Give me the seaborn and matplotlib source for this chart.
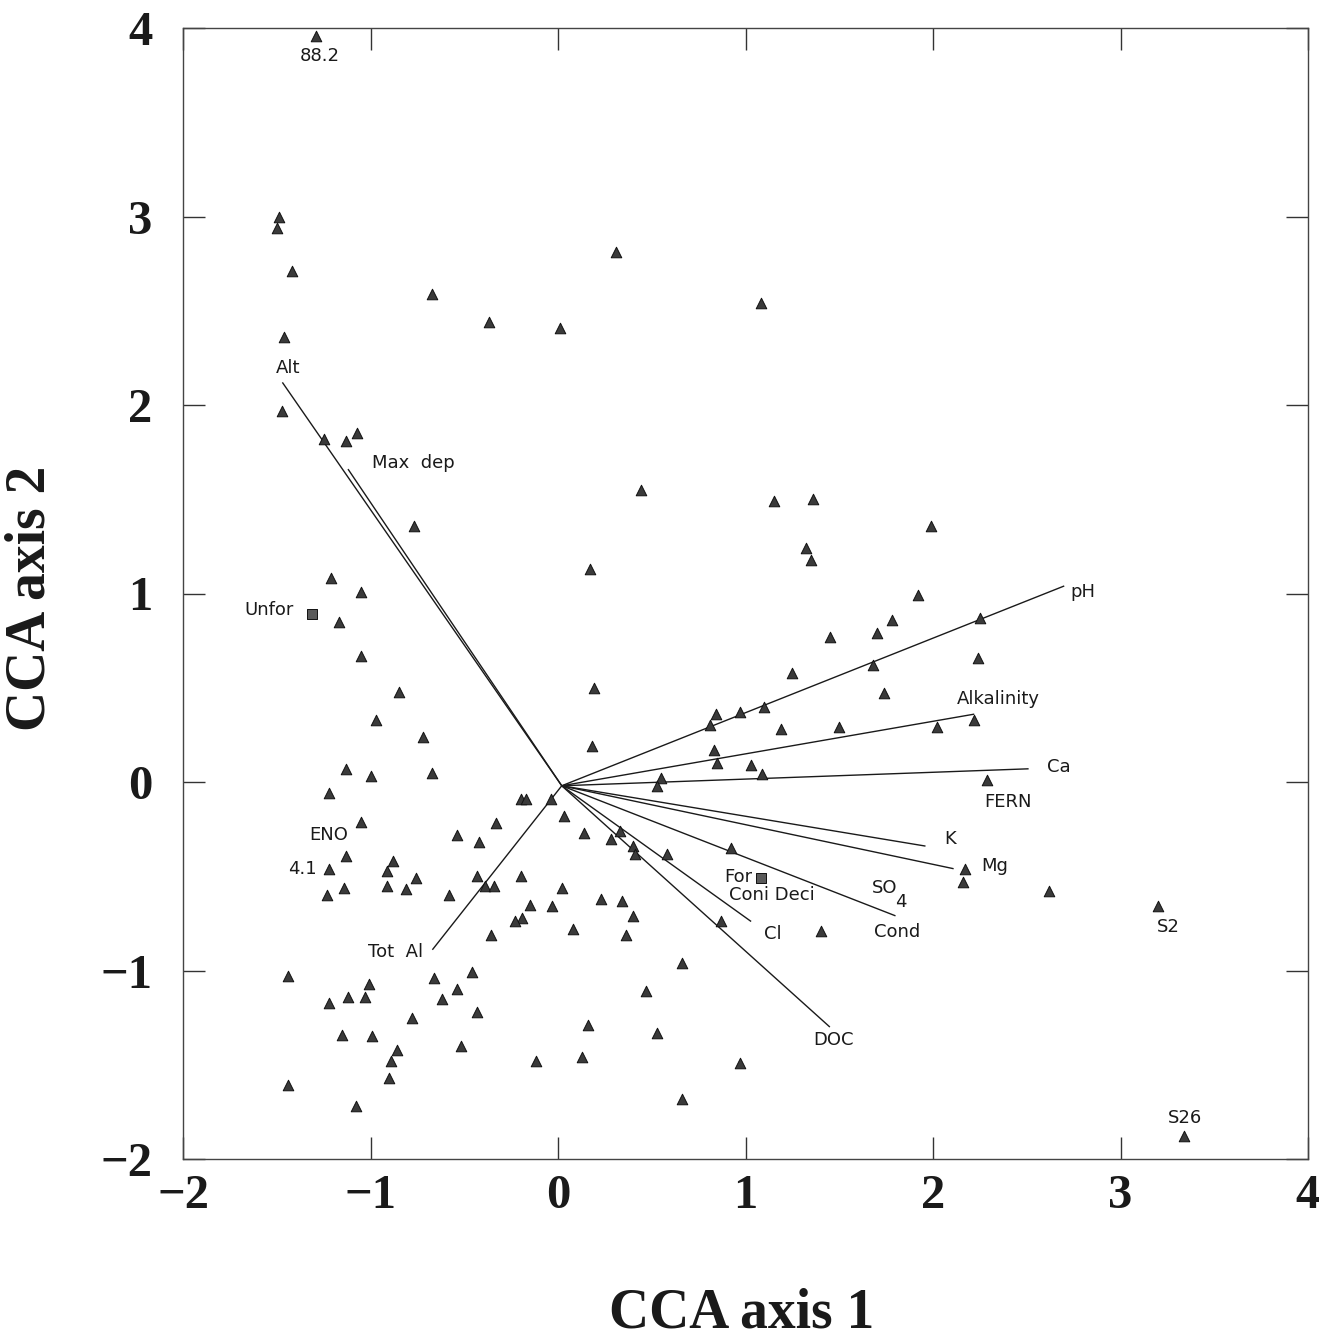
import matplotlib
matplotlib.use("Agg")
import matplotlib.pyplot as plt
import seaborn as sns
import pandas as pd

# ---- site scores (triangles) ----
site_x = [-1.29, -1.49, -1.50, -1.42, -0.67, -0.37, 0.01, 0.31, 1.08, -1.46,
          -1.47, -1.25, -1.13, -1.07, -0.77, -1.21, -1.05, -1.17, -1.05, -0.85,
          -0.97, -0.72, -1.13, -1.00, -0.67, -1.22, 0.44, 1.15, 1.36, 1.99,
          1.32, 1.35, 0.17, 1.92, 1.78, 1.70, 1.45, 1.68, 1.25, 0.19,
          1.74, 2.25, 2.24, 2.22, 2.29, 0.84, 0.97, 1.10, 0.81, 1.19,
          1.50, 2.02, 0.18, 0.83, 0.85, 1.03, 1.09, 0.55, 0.53, 2.17,
          2.16, 2.62, 3.20, 3.34, 0.03, 0.14, 0.28, 0.33, 0.40, 0.41,
          0.58, 0.92, 0.02, 0.23, 0.34, 0.40, 0.08, 0.36, 0.87, 1.40,
          0.66, 0.47, 0.16, 0.53, 0.13, 0.97, 0.66, -1.05, -1.13, -1.22,
          -1.14, -1.23, -0.88, -0.91, -0.76, -0.91, -0.81, -0.58, -0.54, -0.42,
          -0.33, -0.20, -0.17, -0.04, -0.43, -0.39, -0.34, -0.20, -0.15, -0.03,
          -0.19, -0.23, -0.36, -1.44, -1.01, -1.22, -1.12, -1.03, -0.66, -0.46,
          -0.54, -0.62, -0.78, -0.43, -1.15, -0.99, -0.86, -0.89, -0.90, -0.52,
          -0.12, -1.44, -1.08]
site_y = [3.96, 3.00, 2.94, 2.71, 2.59, 2.44, 2.41, 2.81, 2.54, 2.36,
          1.97, 1.82, 1.81, 1.85, 1.36, 1.08, 1.01, 0.85, 0.67, 0.48,
          0.33, 0.24, 0.07, 0.03, 0.05, -0.06, 1.55, 1.49, 1.50, 1.36,
          1.24, 1.18, 1.13, 0.99, 0.86, 0.79, 0.77, 0.62, 0.58, 0.50,
          0.47, 0.87, 0.66, 0.33, 0.01, 0.36, 0.37, 0.40, 0.30, 0.28,
          0.29, 0.29, 0.19, 0.17, 0.10, 0.09, 0.04, 0.02, -0.02, -0.46,
          -0.53, -0.58, -0.66, -1.88, -0.18, -0.27, -0.30, -0.26, -0.34, -0.38,
          -0.38, -0.35, -0.56, -0.62, -0.63, -0.71, -0.78, -0.81, -0.74, -0.79,
          -0.96, -1.11, -1.29, -1.33, -1.46, -1.49, -1.68, -0.21, -0.39, -0.46,
          -0.56, -0.60, -0.42, -0.47, -0.51, -0.55, -0.57, -0.60, -0.28, -0.32,
          -0.22, -0.09, -0.09, -0.09, -0.50, -0.55, -0.55, -0.50, -0.65, -0.66,
          -0.72, -0.74, -0.81, -1.03, -1.07, -1.17, -1.14, -1.14, -1.04, -1.01,
          -1.10, -1.15, -1.25, -1.22, -1.34, -1.35, -1.42, -1.48, -1.57, -1.40,
          -1.48, -1.61, -1.72]

# ---- nominal variables (squares) ----
group_names = ["Unfor", "For"]
group_x = [-1.31, 1.08]
group_y = [0.89, -0.51]

# ---- environmental biplot arrows ----
env_names = ["Alt", "Max dep", "pH", "Alkalinity", "Ca", "K", "Mg",
             "Cond", "Cl", "DOC", "Tot Al"]
env_x = [-1.47, -1.12, 2.70, 2.22, 2.51, 1.96, 2.11, 1.80, 1.03, 1.45, -0.67]
env_y = [2.12, 1.66, 1.04, 0.36, 0.07, -0.34, -0.46, -0.71, -0.74, -1.30, -0.89]
origin_x = 0.02
origin_y = -0.02

# ---- text labels ----
label_text = ["88.2", "Alt", "Max  dep", "Unfor", "pH", "Alkalinity", "Ca",
              "FERN", "K", "Mg", "S2", "S26", "SO", "4", "Cond", "Cl", "DOC",
              "For", "Coni Deci", "ENO", "4.1", "Tot  Al"]
label_x = [-1.27, -1.44, -0.77, -1.54, 2.80, 2.35, 2.67,
           2.40, 2.09, 2.33, 3.255, 3.346, 1.743, 1.828, 1.81, 1.146, 1.471,
           0.962, 1.14, -1.222, -1.361, -0.868]
label_y = [3.853, 2.197, 1.693, 0.913, 1.008, 0.441, 0.080,
           -0.106, -0.300, -0.446, -0.770, -1.781, -0.560, -0.634, -0.796, -0.807, -1.367,
           -0.504, -0.602, -0.281, -0.459, -0.902]

x_ticks = [-2, -1, 0, 1, 2, 3, 4]
y_ticks = [-2, -1, 0, 1, 2, 3, 4]
x_title = "CCA axis 1"
y_title = "CCA axis 2"

sns.set_theme(style="ticks")
plt.rcParams['font.family'] = ['DejaVu Sans']

W, H = 1319, 1340
fig = plt.figure(figsize=(W / 100, H / 100), dpi=100)
ax = fig.add_axes([183 / W, 1 - 1159 / H, 1125 / W, 1131 / H])

# arrows
for ex, ey in zip(env_x, env_y):
    ax.plot([origin_x, ex], [origin_y, ey], color="#1a1a1a", lw=1.0, zorder=2,
            solid_capstyle="butt")

sites = pd.DataFrame({"x": site_x, "y": site_y})
sns.scatterplot(data=sites, x="x", y="y", marker="^", s=58, color="#3a3a3a",
                edgecolor="#111111", linewidth=0.7, ax=ax, zorder=3, legend=False)

groups = pd.DataFrame({"x": group_x, "y": group_y, "name": group_names})
sns.scatterplot(data=groups, x="x", y="y", marker="s", s=60, color="#5a5a5a",
                edgecolor="#111111", linewidth=0.7, ax=ax, zorder=3, legend=False)

for t, lx, ly in zip(label_text, label_x, label_y):
    ax.text(lx, ly, t, fontsize=13, ha="center", va="center", color="#1a1a1a",
            family=["DejaVu Sans"], zorder=4)

ax.set_xlim(-2, 4)
ax.set_ylim(-2, 4)
serif = ["Liberation Serif", "DejaVu Serif"]
ax.set_xticks(x_ticks)
ax.set_xticklabels([str(t).replace("-", "\u2212") for t in x_ticks],
                   fontsize=35, fontweight="bold", family=serif, color="#1a1a1a")
ax.set_yticks(y_ticks)
ax.set_yticklabels([str(t).replace("-", "\u2212") for t in y_ticks],
                   fontsize=35, fontweight="bold", family=serif, color="#1a1a1a")
ax.tick_params(direction="in", length=16, width=1.0, top=True, right=True,
               color="#333333")
ax.tick_params(axis="x", pad=11)
ax.tick_params(axis="y", pad=22)
for sp in ax.spines.values():
    sp.set_linewidth(1.0)
    sp.set_color("#444444")

ax.set_xlabel(x_title, fontsize=40, fontweight="bold", family=serif, color="#1a1a1a")
ax.set_ylabel(y_title, fontsize=40, fontweight="bold", family=serif, color="#1a1a1a")
ax.xaxis.set_label_coords(0.4964, -0.114)
ax.yaxis.set_label_coords(-0.112, 0.496)

fig.savefig("out.png", dpi=100)
